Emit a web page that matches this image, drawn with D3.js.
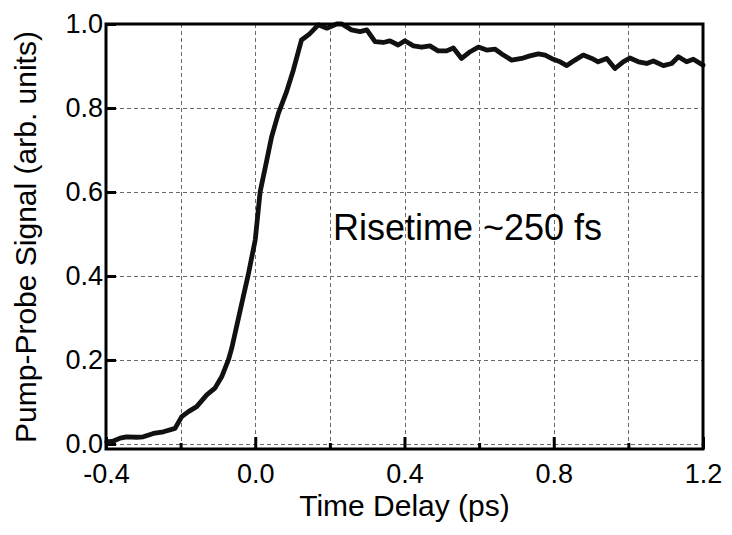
<!DOCTYPE html>
<html>
<head>
<meta charset="utf-8">
<script src="https://cdn.jsdelivr.net/npm/d3@7"></script>
<style>
  html, body { margin: 0; padding: 0; background: #fff; }
  svg { display: block; font-family: "Liberation Sans", Arial, sans-serif; }
</style>
</head>
<body>
<svg id="chart" width="732" height="535"></svg>
<script>
const timeDelay = [
  -0.398, -0.380, -0.362, -0.345, -0.318, -0.300, -0.273, -0.246, -0.215, -0.197,
  -0.179, -0.157, -0.130, -0.108, -0.090, -0.072, -0.063, -0.032, -0.019, 0.000,
  0.013, 0.031, 0.044, 0.062, 0.084, 0.102, 0.124, 0.145, 0.169, 0.192,
  0.218, 0.232, 0.258, 0.281, 0.299, 0.321, 0.343, 0.361, 0.383, 0.401,
  0.424, 0.446, 0.468, 0.490, 0.513, 0.531, 0.553, 0.576, 0.598, 0.620,
  0.643, 0.665, 0.687, 0.714, 0.736, 0.759, 0.777, 0.799, 0.817, 0.835,
  0.857, 0.879, 0.902, 0.919, 0.942, 0.964, 0.986, 1.004, 1.027, 1.049,
  1.067, 1.094, 1.116, 1.134, 1.156, 1.174, 1.200
];
const signal = [
  0.005, 0.007, 0.014, 0.017, 0.016, 0.017, 0.025, 0.029, 0.037, 0.065,
  0.077, 0.089, 0.117, 0.133, 0.160, 0.200, 0.228, 0.351, 0.402, 0.486,
  0.600, 0.676, 0.732, 0.787, 0.839, 0.890, 0.962, 0.976, 0.998, 0.990,
  1.000, 1.000, 0.986, 0.982, 0.986, 0.958, 0.956, 0.960, 0.950, 0.960,
  0.948, 0.945, 0.948, 0.936, 0.936, 0.943, 0.918, 0.934, 0.945, 0.938,
  0.940, 0.926, 0.914, 0.918, 0.924, 0.929, 0.926, 0.916, 0.910, 0.901,
  0.914, 0.926, 0.918, 0.910, 0.918, 0.894, 0.910, 0.919, 0.910, 0.906,
  0.912, 0.901, 0.906, 0.922, 0.910, 0.916, 0.902
];
const xTickValues = [-0.4, -0.2, 0.0, 0.2, 0.4, 0.6, 0.8, 1.0, 1.2];
const xTickLabels = ["-0.4", "", "0.0", "", "0.4", "", "0.8", "", "1.2"];
const yTickValues = [0.0, 0.2, 0.4, 0.6, 0.8, 1.0];
const yTickLabels = ["0.0", "0.2", "0.4", "0.6", "0.8", "1.0"];
const xTitle = "Time Delay (ps)";
const yTitle = "Pump-Probe Signal (arb. units)";
const annotation = "Risetime ~250 fs";

const svg = d3.select("#chart");
const pLeft = 106, pRight = 703, pTop = 24, pBottom = 449;
const x = d3.scaleLinear().domain([-0.4, 1.2]).range([pLeft, pRight]);
const y = d3.scaleLinear().domain([-0.012, 1.0]).range([pBottom, pTop]);

// grid
const grid = svg.append("g");
grid.selectAll("line.vg").data(xTickValues.filter(v => v > -0.4 + 1e-9 && v < 1.2 - 1e-9))
  .enter().append("line")
  .attr("x1", d => Math.round(x(d)) + 0.5).attr("x2", d => Math.round(x(d)) + 0.5)
  .attr("y1", pTop).attr("y2", pBottom)
  .attr("stroke", "#6a6a6a").attr("stroke-width", 1).attr("stroke-dasharray", "4,3");
grid.selectAll("line.hg").data(yTickValues.filter(v => v < 1.0 - 1e-9))
  .enter().append("line")
  .attr("x1", pLeft).attr("x2", pRight)
  .attr("y1", d => Math.round(y(d)) + 0.5).attr("y2", d => Math.round(y(d)) + 0.5)
  .attr("stroke", "#6a6a6a").attr("stroke-width", 1).attr("stroke-dasharray", "4,3");

// axes via d3 axis generators (ticks inward)
const xAxis = d3.axisBottom(x).tickValues(xTickValues)
  .tickFormat((d, i) => xTickLabels[i]).tickSizeInner(-12).tickSizeOuter(0).tickPadding(24);
const gx = svg.append("g").attr("transform", `translate(0,${pBottom})`).call(xAxis);
gx.select(".domain").remove();
gx.selectAll(".tick line").attr("stroke", "#000").attr("stroke-width", 3)
  .attr("y2", (d, i) => xTickLabels[i] ? -12 : -6);
gx.selectAll(".tick text").attr("font-size", 27).attr("fill", "#000")
  .attr("font-family", "Liberation Sans, Arial, sans-serif").attr("dy", "0.71em").attr("y", 15);

const yAxis = d3.axisLeft(y).tickValues(yTickValues)
  .tickFormat((d, i) => yTickLabels[i]).tickSizeInner(-10).tickSizeOuter(0).tickPadding(14);
const gy = svg.append("g").attr("transform", `translate(${pLeft},0)`).call(yAxis);
gy.select(".domain").remove();
gy.selectAll(".tick line").attr("stroke", "#000").attr("stroke-width", 3);
gy.selectAll(".tick text").attr("font-size", 27).attr("fill", "#000")
  .attr("font-family", "Liberation Sans, Arial, sans-serif").attr("x", -3);

// data line
const pts = timeDelay.map((t, i) => [t, signal[i]]);
svg.append("path").datum(pts)
  .attr("fill", "none").attr("stroke", "#111").attr("stroke-width", 4.8)
  .attr("stroke-linejoin", "round").attr("stroke-linecap", "round")
  .attr("d", d3.line().x(d => x(d[0])).y(d => y(d[1])));

// frame
svg.append("rect").attr("x", pLeft).attr("y", pTop)
  .attr("width", pRight - pLeft).attr("height", pBottom - pTop)
  .attr("fill", "none").attr("stroke", "#000").attr("stroke-width", 3);

// titles
svg.append("text").attr("x", (pLeft + pRight) / 2).attr("y", 516)
  .attr("text-anchor", "middle").attr("font-size", 30).attr("fill", "#000").text(xTitle);
svg.append("text").attr("transform", `translate(36,237) rotate(-90)`)
  .attr("text-anchor", "middle").attr("font-size", 30).attr("fill", "#000").text(yTitle);

svg.append("text").attr("x", 333).attr("y", 240)
  .attr("font-size", 36).attr("fill", "#000").text(annotation);
</script>
</body>
</html>
